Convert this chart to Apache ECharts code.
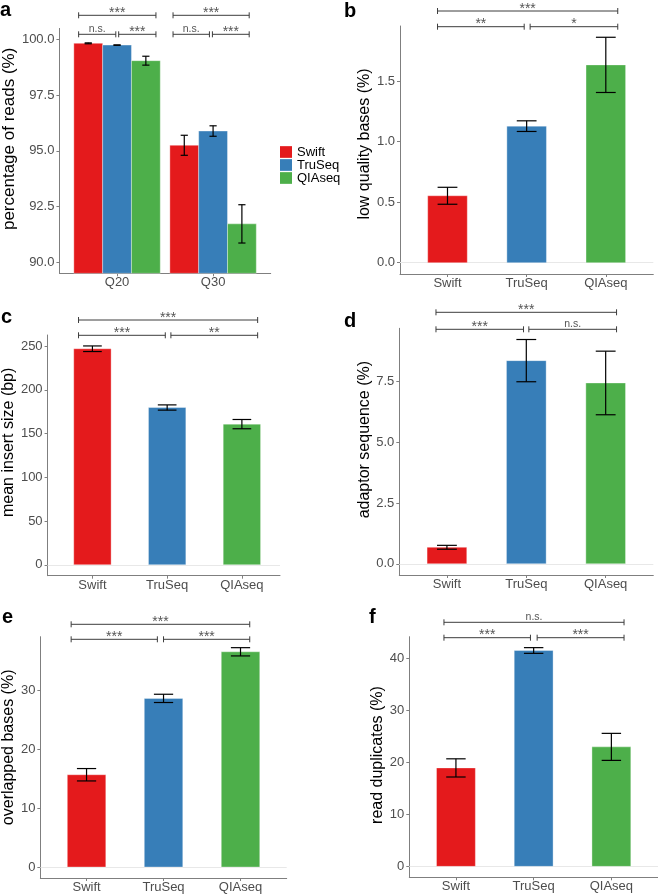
<!DOCTYPE html>
<html><head><meta charset="utf-8">
<script src="https://cdn.jsdelivr.net/npm/echarts@6/dist/echarts.min.js"></script>
<style>html,body{margin:0;padding:0;background:#fff}#c{width:658px;height:894px}</style>
</head><body><div id="c"></div>
<script>
// ---------------- data ----------------
const libraries = ['Swift', 'TruSeq', 'QIAseq'];
const qualityLevels = ['Q20', 'Q30'];

// a: percentage of reads (%) at Q20 / Q30 (mean and error half-width)
const readsSwift = [99.83, 95.25];
const readsSwiftErr = [0.02, 0.45];
const readsTruSeq = [99.75, 95.89];
const readsTruSeqErr = [0.01, 0.235];
const readsQIAseq = [99.05, 91.72];
const readsQIAseqErr = [0.2, 0.86];
const readsTicks = [90, 92.5, 95, 97.5, 100];

// b: low quality bases (%)
const lowQual = [0.553, 1.128, 1.634];
const lowQualErr = [0.07, 0.044, 0.228];
const lowQualTicks = [0, 0.5, 1.0, 1.5];

// c: mean insert size (bp)
const insertSize = [247.0, 179.8, 160.8];
const insertSizeErr = [3.2, 3.0, 5.3];
const insertSizeTicks = [0, 50, 100, 150, 200, 250];

// d: adaptor sequence (%)
const adaptor = [0.68, 8.37, 7.45];
const adaptorErr = [0.08, 0.87, 1.31];
const adaptorTicks = [0, 2.5, 5.0, 7.5];

// e: overlapped bases (%)
const overlap = [15.65, 28.6, 36.5];
const overlapErr = [1.05, 0.7, 0.7];
const overlapTicks = [0, 10, 20, 30];

// f: read duplicates (%)
const duplicates = [18.95, 41.55, 23.0];
const duplicatesErr = [1.75, 0.55, 2.6];
const duplicatesTicks = [0, 10, 20, 30, 40];

// significance labels: [outer comparison, left pair, right pair]
const sigQ20 = ['***', 'n.s.', '***'];
const sigQ30 = ['***', 'n.s.', '***'];
const sigB = ['***', '**', '*'];
const sigC = ['***', '***', '**'];
const sigD = ['***', '***', 'n.s.'];
const sigE = ['***', '***', '***'];
const sigF = ['n.s.', '***', '***'];

// ---------------- style / layout ----------------
const FONT = "'Liberation Sans', Arial, Helvetica, sans-serif";
const COLORS = ['#E41A1C', '#377EB8', '#4DAF4A'];
const AXIS_COLOR = '#7f7f7f';

function xAxisCfg(gi, min, max, cats) {
  const idx = cats.map((_, i) => i);
  return {
    type: 'value', gridIndex: gi, min: min, max: max,
    axisLine: { show: true, onZero: false, lineStyle: { color: AXIS_COLOR, width: 1 } },
    axisTick: { show: true, length: 3, lineStyle: { color: AXIS_COLOR }, customValues: idx },
    axisLabel: { customValues: idx, formatter: v => cats[Math.round(v)], fontSize: 13, color: '#4d4d4d', margin: 3, fontFamily: FONT },
    splitLine: { show: false }
  };
}
function yAxisCfg(gi, min, max, ticks, dec, name, size, gap, shift) {
  return {
    type: 'value', gridIndex: gi, min: min, max: max,
    name: name, nameLocation: 'middle', nameGap: gap,
    nameTextStyle: { fontSize: size, color: '#000', fontFamily: FONT, padding: [0, 0, 0, 2 * shift] },
    axisLine: { show: true, onZero: false, lineStyle: { color: AXIS_COLOR, width: 1 } },
    axisTick: { show: true, length: 3, lineStyle: { color: AXIS_COLOR }, customValues: ticks },
    axisLabel: { customValues: ticks, formatter: v => v.toFixed(dec), fontSize: 13, color: '#4d4d4d', margin: 5, fontFamily: FONT },
    splitLine: { show: false }
  };
}
function barSeries(gi, name, vals, errs, opts) {
  return {
    type: 'custom', name: name, xAxisIndex: gi, yAxisIndex: gi, z: 2,
    itemStyle: { color: opts.color || COLORS[0] },
    data: vals.map((v, i) => [i, v, errs[i]]),
    markLine: opts.zeroLine ? {
      silent: true, symbol: 'none', label: { show: false },
      lineStyle: { color: '#e8e8e8', width: 1, type: 'solid' },
      emphasis: { disabled: true },
      data: [{ yAxis: 0 }], z: 1
    } : undefined,
    renderItem(params, api) {
      const i = params.dataIndex;
      const x = api.value(0) + (opts.offset || 0);
      const v = api.value(1), e = api.value(2);
      const w = opts.barW, cw = opts.capW;
      const tl = api.coord([x - w / 2, v]);
      const br = api.coord([x + w / 2, opts.base]);
      const et = api.coord([x, v + e]);
      const eb = api.coord([x, v - e]);
      const cl = api.coord([x - cw / 2, v])[0];
      const cr = api.coord([x + cw / 2, v])[0];
      const color = opts.color || COLORS[i];
      const ls = { stroke: '#000', lineWidth: 1.2 };
      return {
        type: 'group', children: [
          { type: 'rect', shape: { x: tl[0], y: tl[1], width: br[0] - tl[0], height: br[1] - tl[1] },
            style: { fill: color, stroke: 'rgba(255,255,255,0.35)', lineWidth: 1 } },
          { type: 'line', shape: { x1: et[0], y1: et[1], x2: eb[0], y2: eb[1] }, style: ls },
          { type: 'line', shape: { x1: cl, y1: et[1], x2: cr, y2: et[1] }, style: ls },
          { type: 'line', shape: { x1: cl, y1: eb[1], x2: cr, y2: eb[1] }, style: ls }
        ]
      };
    }
  };
}
// brackets: xs = [left, midLeft, midRight, right] in x-axis units; lv = pixel offsets from grid top [outer, inner]
function bracketSeries(gi, xs, lv, labels) {
  const items = [[xs[0], xs[3], 0, labels[0]], [xs[0], xs[1], 1, labels[1]], [xs[2], xs[3], 1, labels[2]]];
  return {
    type: 'custom', xAxisIndex: gi, yAxisIndex: gi, silent: true, z: 5,
    data: items.map(b => [b[0], b[1]]),
    renderItem(params, api) {
      const b = items[params.dataIndex];
      const y = params.coordSys.y + lv[b[2]];
      const x1 = api.coord([api.value(0), 0])[0];
      const x2 = api.coord([api.value(1), 0])[0];
      const st = { stroke: '#3c3c3c', lineWidth: 1 };
      const star = b[3].indexOf('*') >= 0;
      return {
        type: 'group', children: [
          { type: 'line', shape: { x1: x1, y1: y, x2: x2, y2: y }, style: st },
          { type: 'line', shape: { x1: x1, y1: y - 3, x2: x1, y2: y + 3 }, style: st },
          { type: 'line', shape: { x1: x2, y1: y - 3, x2: x2, y2: y + 3 }, style: st },
          { type: 'text', x: (x1 + x2) / 2, y: star ? y + 4.7 : y + 0.5,
            style: { text: b[3], fill: '#555', fontSize: star ? 14 : 10.5, fontFamily: FONT, align: 'center', verticalAlign: 'bottom' } }
        ]
      };
    }
  };
}
function range(vals, errs) {
  const m = Math.max(...vals.map((v, i) => v + errs[i]));
  return [-0.05 * m, 1.05 * m];
}

const grids = [
  { left: 55, top: 28.4, width: 215.7, height: 244.9 },    // a
  { left: 400, top: 26, width: 253.3, height: 248 },       // b
  { left: 45.7, top: 335, width: 234.3, height: 240.7 },   // c
  { left: 399.3, top: 328.3, width: 254, height: 246.7 },  // d
  { left: 37.3, top: 636.7, width: 249.4, height: 241.6 }, // e
  { left: 409.3, top: 636.7, width: 249, height: 240.6 }   // f
];

const rB = range(lowQual, lowQualErr);
const rC = range(insertSize, insertSizeErr);
const rD = range(adaptor, adaptorErr);
const rE = range(overlap, overlapErr);
const rF = range(duplicates, duplicatesErr);

const xAxes = [
  xAxisCfg(0, -0.6, 1.6, qualityLevels),
  xAxisCfg(1, -0.6, 2.6, libraries),
  xAxisCfg(2, -0.6, 2.51, libraries),
  xAxisCfg(3, -0.6, 2.6, libraries),
  xAxisCfg(4, -0.6, 2.6, libraries),
  xAxisCfg(5, -0.6, 2.6, libraries)
];
const yAxes = [
  yAxisCfg(0, 89.5, 100.5, readsTicks, 1, 'percentage of reads (%)', 17, 33, 12),
  yAxisCfg(1, rB[0], rB[1], lowQualTicks, 1, 'low quality bases (%)', 16, 25, 6),
  yAxisCfg(2, rC[0], rC[1], insertSizeTicks, 0, 'mean insert size (bp)', 16, 24, 13),
  yAxisCfg(3, rD[0], rD[1], adaptorTicks, 1, 'adaptor sequence (%)', 16, 22, 12),
  yAxisCfg(4, rE[0], rE[1], overlapTicks, 0, 'overlapped bases (%)', 16, 16, 10),
  yAxisCfg(5, rF[0], rF[1], duplicatesTicks, 0, 'read duplicates (%)', 16, 23, 2)
];

const aOpts = k => ({ color: COLORS[k], offset: (k - 1) * 0.3, barW: 0.3, capW: 0.075, base: 89.5 });
const bfOpts = { barW: 0.5, capW: 0.25, base: 0, zeroLine: true };

const series = [
  barSeries(0, 'Swift', readsSwift, readsSwiftErr, aOpts(0)),
  barSeries(0, 'TruSeq', readsTruSeq, readsTruSeqErr, aOpts(1)),
  barSeries(0, 'QIAseq', readsQIAseq, readsQIAseqErr, aOpts(2)),
  bracketSeries(0, [-0.40, -0.013, 0.017, 0.405], [-13.1, 5.9], sigQ20),
  bracketSeries(0, [0.583, 0.962, 0.993, 1.376], [-13.1, 5.9], sigQ30),
  barSeries(1, 'low quality bases', lowQual, lowQualErr, bfOpts),
  bracketSeries(1, [-0.126, 0.969, 1.044, 2.151], [-15, 0.7], sigB),
  barSeries(2, 'mean insert size', insertSize, insertSizeErr, bfOpts),
  bracketSeries(2, [-0.186, 0.975, 1.05, 2.211], [-15, 0.3], sigC),
  barSeries(3, 'adaptor sequence', adaptor, adaptorErr, bfOpts),
  bracketSeries(3, [-0.138, 0.965, 1.032, 2.137], [-16, 1], sigD),
  barSeries(4, 'overlapped bases', overlap, overlapErr, bfOpts),
  bracketSeries(4, [-0.20, 0.92, 1.0, 2.12], [-12.4, 2.6], sigE),
  barSeries(5, 'read duplicates', duplicates, duplicatesErr, bfOpts),
  bracketSeries(5, [-0.154, 0.959, 1.045, 2.163], [-14.4, 1], sigF)
];

const panelTitle = (t, left, top) => ({
  text: t, left: left, top: top, padding: 0,
  textStyle: { fontSize: 20, fontWeight: 'bold', color: '#000', fontFamily: FONT }
});

const chart = echarts.init(document.getElementById('c'), null, { renderer: 'canvas' });
chart.setOption({
  backgroundColor: '#fff',
  animation: false,
  title: [
    panelTitle('a', 0, 0.5), panelTitle('b', 344, 1.2), panelTitle('c', 1, 307.8),
    panelTitle('d', 344, 311.2), panelTitle('e', 2, 607.2), panelTitle('f', 369, 607.8)
  ],
  legend: {
    data: libraries, orient: 'vertical', left: 275, top: 140.5,
    itemWidth: 12, itemHeight: 11.7, itemGap: 0, icon: 'rect',
    textStyle: { fontSize: 13, color: '#000', fontFamily: FONT, lineHeight: 11.7 }
  },
  grid: grids,
  xAxis: xAxes,
  yAxis: yAxes,
  series: series
});
</script>
</body></html>
